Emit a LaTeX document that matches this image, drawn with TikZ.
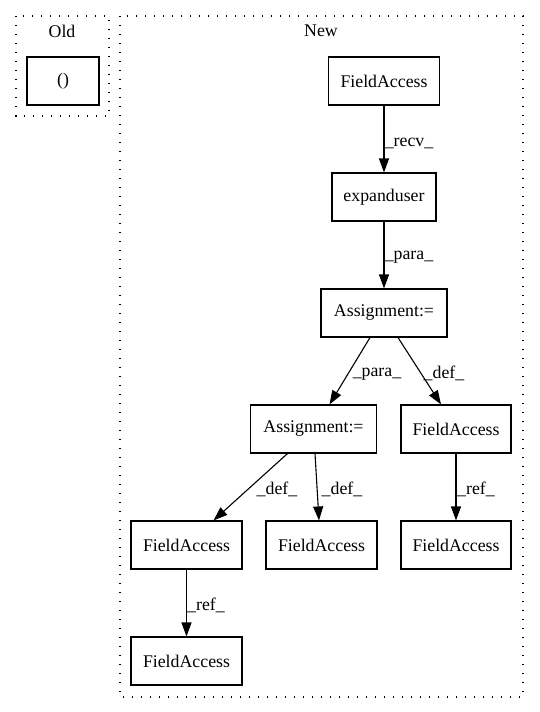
\documentclass[tikz,border=0pt]{standalone}
\usepackage{fontspec}
\setmainfont{Liberation Serif}
\usetikzlibrary{arrows.meta}
\begin{document}
\begin{tikzpicture}[x=1pt,y=-1pt,
  box/.style={draw,line width=1.1pt,minimum height=48pt,inner sep=0pt,font=\fontsize{17.8}{20}\selectfont},
  lbl/.style={inner sep=0pt,font=\fontsize{17.8}{20}\selectfont},
  cluster/.style={draw,line width=1.3pt,dash pattern=on 1.3pt off 7.7pt},
  edge/.style={draw,line width=1.1pt,-{Triangle[length=14pt,width=10pt]}}]
\useasboundingbox (0,0) rectangle (539,712);
% clusters
\draw[cluster] (16,16) rectangle (109,116);
\node[lbl] (oldlbl) at (62,31) {Old};
\draw[cluster] (120,16) rectangle (523,697);
\node[lbl] (newlbl) at (321,31) {New};
% nodes
\node[box,minimum width=72pt] (par) at (63,81) {()};
\node[box,minimum width=111pt] (fa1) at (384,81) {FieldAccess};
\node[box,minimum width=104pt] (exp) at (384,197) {expanduser};
\node[box,minimum width=126pt] (as1) at (384,313) {Assignment:=};
\node[box,minimum width=126pt] (as2) at (313.5,429) {Assignment:=};
\node[box,minimum width=110pt] (far) at (456,429) {FieldAccess};
\node[box,minimum width=111pt] (fal) at (186.5,545) {FieldAccess};
\node[box,minimum width=111pt] (fam) at (321.5,545) {FieldAccess};
\node[box,minimum width=110pt] (farb) at (456,545) {FieldAccess};
\node[box,minimum width=111pt] (fab) at (186.5,661) {FieldAccess};
% edges
\draw[edge] (fa1.south) -- (exp.north);
\draw[edge] (exp.south) -- (as1.north);
\draw[edge] ([xshift=-14pt]as1.south) -- ([xshift=16pt]as2.north);
\draw[edge] ([xshift=14pt]as1.south) -- ([xshift=-15pt]far.north);
\draw[edge] ([xshift=-26pt]as2.south) -- ([xshift=27pt]fal.north);
\draw[edge] ([xshift=1.5pt]as2.south) -- ([xshift=-2.5pt]fam.north);
\draw[edge] (far.south) -- (farb.north);
\draw[edge] (fal.south) -- (fab.north);
% edge labels
\node[lbl] (l1) at (409,143) {\_recv\_};
\node[lbl] (l2) at (409,257) {\_para\_};
\node[lbl] (l3) at (377,374) {\_para\_};
\node[lbl] (l4) at (444,373) {\_def\_};
\node[lbl] (l5) at (277,489) {\_def\_};
\node[lbl] (l6) at (342,489) {\_def\_};
\node[lbl] (l7) at (476,489) {\_ref\_};
\node[lbl] (l8) at (206,605) {\_ref\_};
\end{tikzpicture}
\end{document}
